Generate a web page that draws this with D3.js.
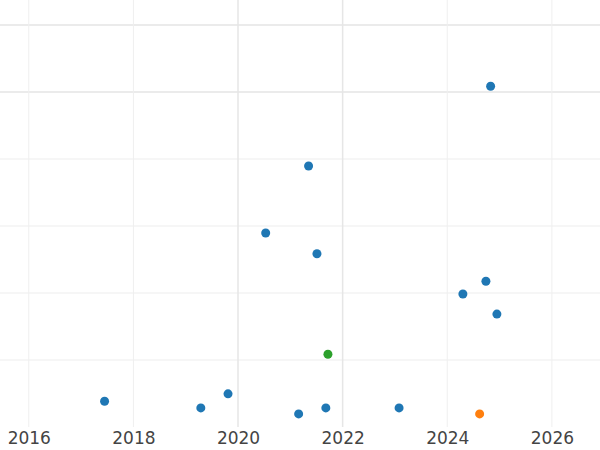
<!DOCTYPE html>
<html><head><meta charset="utf-8">
<script src="https://cdn.jsdelivr.net/npm/d3@7"></script>
<style>body{margin:0;background:#fff}svg{display:block}</style>
</head><body><svg width="600" height="450"></svg>
<script>
const xValues=[2017.43,2019.27,2019.79,2020.51,2021.14,2021.33,2021.49,2021.66,2021.70,2023.06,2024.28,2024.60,2024.72,2024.81,2024.93];
const yValues=[0.40,0.30,0.51,2.91,0.21,3.91,2.60,0.30,1.10,0.30,2.00,0.21,2.19,5.10,1.70];
const groups=["a","a","a","a","a","a","a","a","c","a","a","b","a","a","a"];
const xTicks=[2016,2018,2020,2022,2024,2026];
const yGrid=[1,2,3,4,5,6];
const colors={a:"#1f77b4",b:"#ff7f0e",c:"#2ca02c"};
const svg=d3.select("svg");
const x=d3.scaleLinear().domain([2015.45,2026.92]).range([1,601]);
const y=d3.scaleLinear().domain([0,6]).range([428,26]);
svg.append("g").selectAll("line").data(yGrid).join("line")
 .attr("x1",0).attr("x2",600).attr("y1",d=>y(d)-1).attr("y2",d=>y(d)-1)
 .attr("stroke",d=>(d===5||d===6)?"#e4e4e4":"#ededed").attr("stroke-width",d=>(d===5||d===6)?1.5:1);
svg.append("g").selectAll("line").data(xTicks).join("line")
 .attr("x1",d=>x(d)-1).attr("x2",d=>x(d)-1).attr("y1",0).attr("y2",427)
 .attr("stroke",d=>(d===2020||d===2022)?"#e6e6e6":"#efefef").attr("stroke-width",d=>(d===2020||d===2022)?1.5:1);
const ax=svg.append("g").attr("transform","translate(-1,427)")
 .call(d3.axisBottom(x).tickValues(xTicks).tickFormat(d3.format("d")).tickSize(0).tickPadding(5));
ax.select(".domain").remove();
ax.selectAll("text").attr("font-family","DejaVu Sans").attr("font-size",17).attr("fill","#444");
svg.append("g").selectAll("circle").data(xValues).join("circle")
 .attr("cx",d=>x(d)).attr("cy",(d,i)=>y(yValues[i])).attr("r",4.5)
 .attr("fill",(d,i)=>colors[groups[i]]);
</script></body></html>
